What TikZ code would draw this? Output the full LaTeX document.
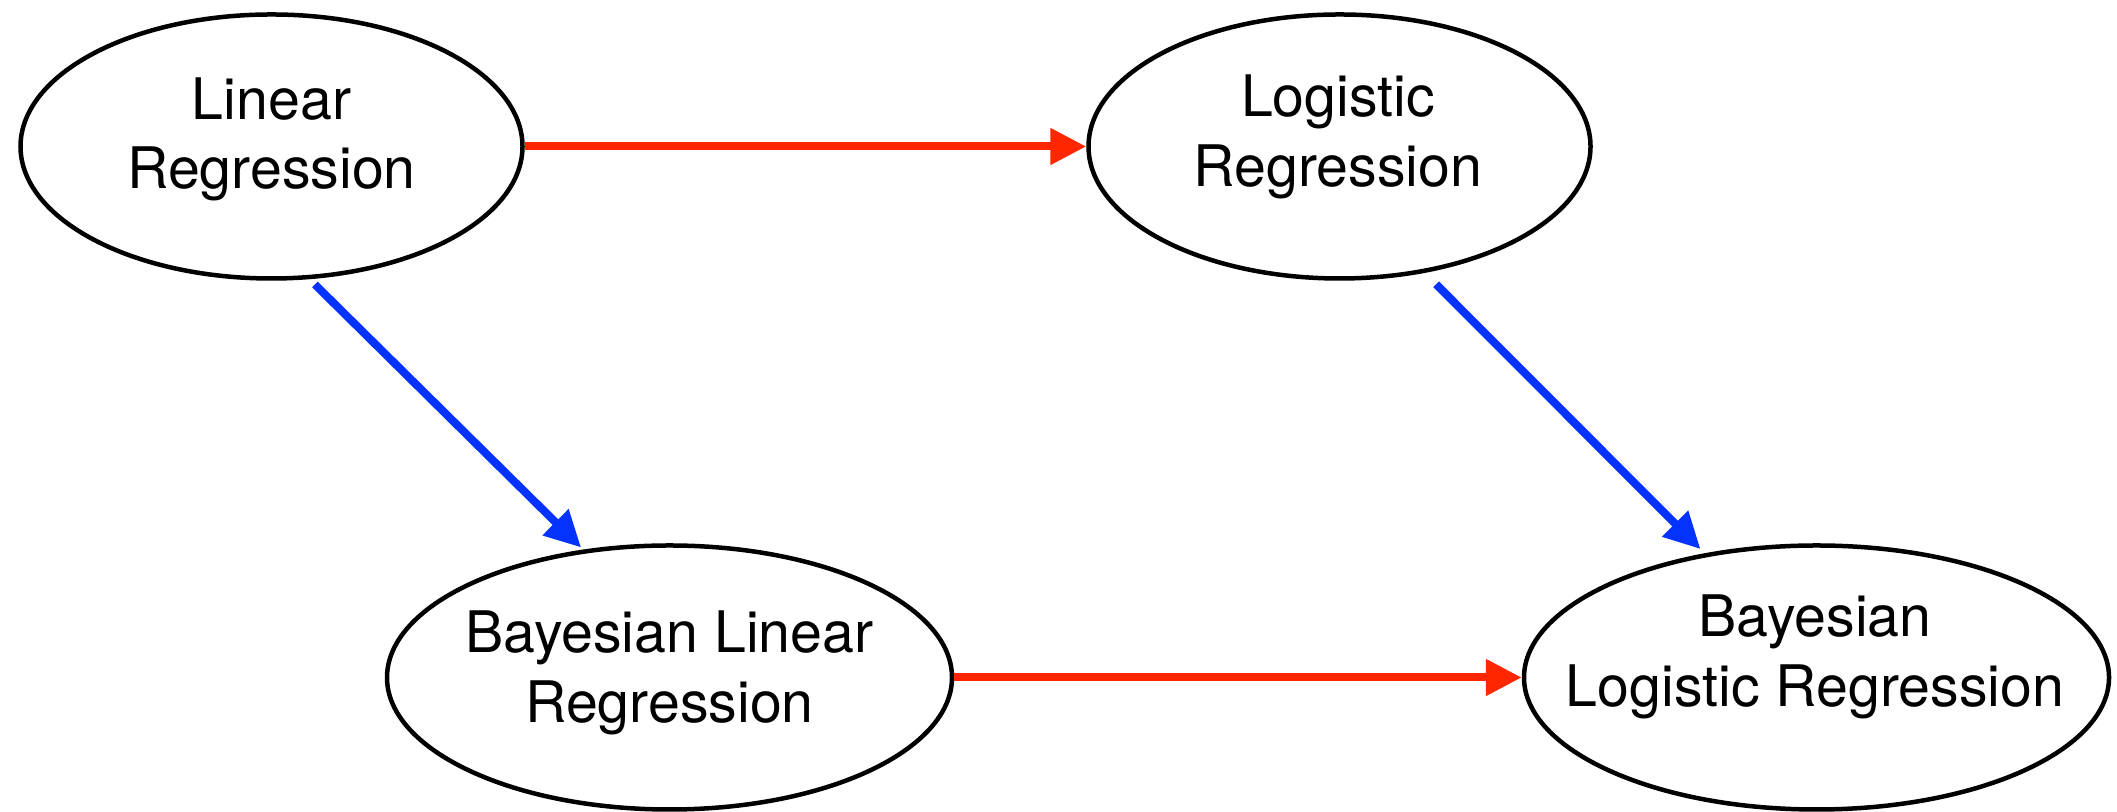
\documentclass[tikz,border=0pt]{standalone}
\usepackage{fontspec}
\setmainfont{TeX Gyre Heros}
\usetikzlibrary{shapes.geometric,arrows.meta}

\definecolor{linkred}{RGB}{255,38,0}
\definecolor{linkblue}{RGB}{4,51,255}

\tikzset{
  model/.style={draw=black, line width=0.045cm, ellipse, inner sep=0pt,
                minimum height=2.64cm},
  caption/.style={align=center, inner sep=0pt,
                  font=\fontsize{16.3pt}{19.8pt}\selectfont},
  tip/.style={-{Triangle[length=0.36cm,width=0.35cm]}},
  redlink/.style={tip, draw=linkred, line width=0.08cm},
  bluelink/.style={tip, draw=linkblue, line width=0.08cm},
}

\begin{document}
\begin{tikzpicture}
\useasboundingbox (0,0) rectangle (21.17,8.12);

% model ellipses
\node[model, minimum width=5.02cm] (lin)   at (2.715,6.655) {};
\node[model, minimum width=5.02cm] (log)   at (13.395,6.655) {};
\node[model, minimum width=5.65cm] (blin)  at (6.695,1.345) {};
\node[model, minimum width=5.85cm] (blog)  at (18.165,1.345) {};

% captions
\node[caption] (linT)  at (2.715,6.725)  {Linear\\Regression};
\node[caption] (logT)  at (13.38,6.75)   {Logistic\\Regression};
\node[caption] (blinT) at (6.695,1.39)   {Bayesian Linear\\Regression};
\node[caption] (blogT) at (18.15,1.55)   {Bayesian\\Logistic Regression};

% red links: towards the logistic models
\draw[redlink] (lin.east) -- (log.west);
\draw[redlink] (blin.east) -- (blog.west);

% blue links: towards the Bayesian models, both at 45 degrees
\draw[bluelink, shorten <=0.075cm, shorten >=0.03cm] (lin.-74.5) -- (blin.124.5);
\draw[bluelink, shorten <=0.16cm, shorten >=0.06cm] (log.-56.5) -- (blog.132);
\end{tikzpicture}
\end{document}
